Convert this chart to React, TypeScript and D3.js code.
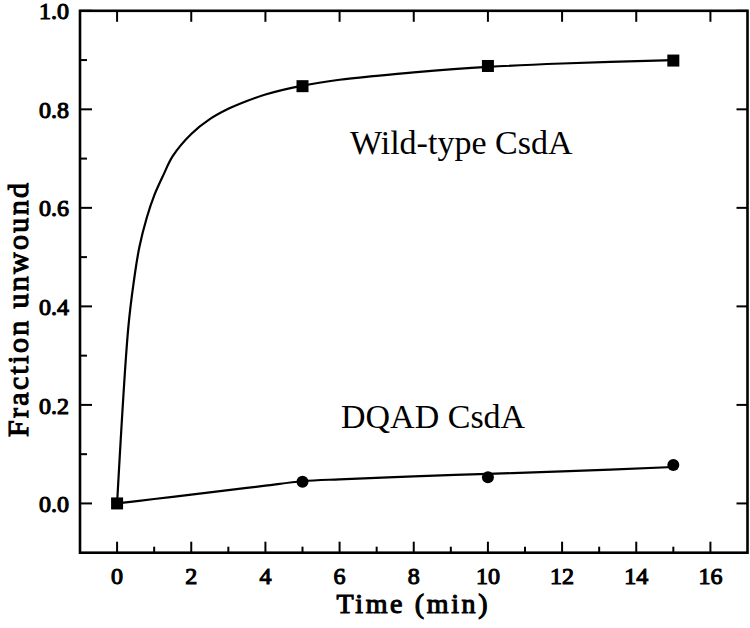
import React from 'react';
import * as d3 from 'd3';

// Measured points
const timePoints = [0, 5, 10, 15];
const wildTypeValues = [0, 0.847, 0.888, 0.899];
const dqadValues = [0, 0.044, 0.053, 0.078];

// Fitted curves
const wildFitTime = [0, 0.3, 0.45, 0.6, 0.8, 1.0, 1.25, 1.5, 2, 2.5, 3, 3.5, 4, 5, 6, 7, 8, 10, 12, 15];
const wildFitValues = [0, 0.355, 0.45, 0.52, 0.58, 0.625, 0.667, 0.705, 0.75, 0.78, 0.801, 0.817, 0.83, 0.848, 0.86, 0.868, 0.875, 0.886, 0.893, 0.90];
const dqadFitTime = [0, 1, 2, 3, 4, 5, 6, 8, 10, 12, 15];
const dqadFitValues = [0, 0.009, 0.018, 0.027, 0.036, 0.045, 0.049, 0.055, 0.06, 0.065, 0.074];

const xMajor = [0, 2, 4, 6, 8, 10, 12, 14, 16];
const xMinor = [1, 3, 5, 7, 9, 11, 13, 15];
const yMajor = [0, 0.2, 0.4, 0.6, 0.8, 1.0];
const yMinor = [0.1, 0.3, 0.5, 0.7, 0.9];

const W = 750;
const H = 628;
const margin = { left: 80, right: 2.5, top: 10.8, bottom: 75.3 };

export default function App() {
  const x = d3.scaleLinear().domain([-1, 17]).range([margin.left, W - margin.right]);
  const y = d3.scaleLinear().domain([-0.1, 1.0]).range([H - margin.bottom, margin.top]);
  const x0 = margin.left, x1 = W - margin.right;
  const y0 = H - margin.bottom, y1 = margin.top;

  const line = d3.line<[number, number]>()
    .x(d => x(d[0]))
    .y(d => y(d[1]))
    .curve(d3.curveCatmullRom.alpha(0.5));

  const wildFit = wildFitTime.map((t, i) => [t, wildFitValues[i]] as [number, number]);
  const dqadFit = dqadFitTime.map((t, i) => [t, dqadFitValues[i]] as [number, number]);

  const font = '"Liberation Serif", "Times New Roman", serif';
  // bold faked with a thin stroke
  const bold = { stroke: '#000', strokeWidth: 1.1, fill: '#000' };

  return (
    <svg width={W} height={H} style={{ position: 'absolute', left: 0, top: 0, background: '#fff' }} fontFamily={font}>
      {/* curves */}
      <path d={line(wildFit) || ''} fill="none" stroke="#000" strokeWidth={2.2} />
      <path d={line(dqadFit) || ''} fill="none" stroke="#000" strokeWidth={2.2} />

      {/* markers */}
      {timePoints.map((t, i) => (
        <rect key={'w' + i} x={x(t) - 6} y={y(wildTypeValues[i]) - 6} width={12} height={12} fill="#000" />
      ))}
      {timePoints.slice(1).map((t, i) => (
        <circle key={'d' + i} cx={x(t)} cy={y(dqadValues[i + 1])} r={6} fill="#000" />
      ))}

      {/* ticks */}
      <g stroke="#000" strokeWidth={2}>
        {xMajor.map(t => (
          <g key={'xm' + t}>
            <line x1={x(t)} x2={x(t)} y1={y0} y2={y0 - 11} />
            <line x1={x(t)} x2={x(t)} y1={y1} y2={y1 + 11} />
          </g>
        ))}
        {xMinor.map(t => (
          <line key={'xn' + t} x1={x(t)} x2={x(t)} y1={y0} y2={y0 - 6} />
        ))}
        {yMajor.map(v => (
          <g key={'ym' + v}>
            <line x1={x0} x2={x0 + 12} y1={y(v)} y2={y(v)} />
            <line x1={x1} x2={x1 - 11} y1={y(v)} y2={y(v)} />
          </g>
        ))}
        {yMinor.map(v => (
          <line key={'yn' + v} x1={x0} x2={x0 + 7} y1={y(v)} y2={y(v)} />
        ))}
      </g>

      {/* frame */}
      <rect x={x0} y={y1} width={x1 - x0} height={y0 - y1} fill="none" stroke="#000" strokeWidth={2.6} />

      {/* tick labels */}
      {xMajor.map(t => (
        <text key={'xl' + t} x={x(t)} y={584} textAnchor="middle" fontSize={24} {...bold}>{t}</text>
      ))}
      {yMajor.map(v => (
        <text key={'yl' + v} x={69} y={y(v)} dy="0.36em" textAnchor="end" fontSize={24} {...bold}>{v.toFixed(1)}</text>
      ))}

      {/* axis titles */}
      <text x={412} y={613} textAnchor="middle" fontSize={28} textLength={151} lengthAdjust="spacing" {...bold}>Time (min)</text>
      <text transform="translate(28,310) rotate(-90)" textAnchor="middle" fontSize={30} textLength={254} lengthAdjust="spacing" {...bold}>Fraction unwound</text>

      {/* series labels */}
      <text x={350} y={154} fontSize={34}>Wild-type CsdA</text>
      <text x={341} y={428} fontSize={34}>DQAD CsdA</text>
    </svg>
  );
}
